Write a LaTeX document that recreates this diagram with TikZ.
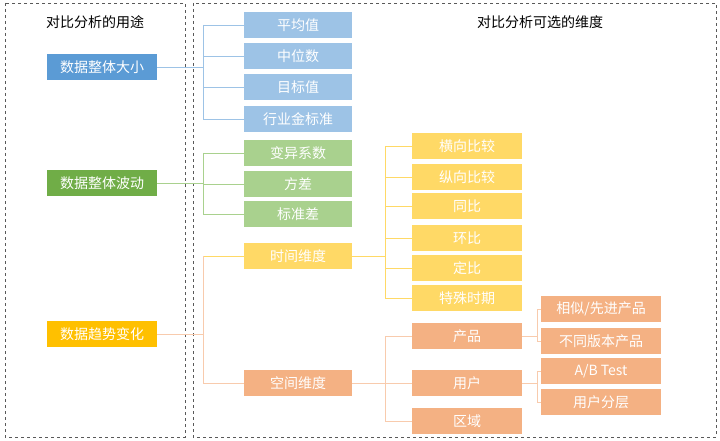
\documentclass[tikz,border=0pt]{standalone}
\usepackage{fontspec}
\setmainfont{Noto Sans CJK SC}
\definecolor{bluedark}{RGB}{91,155,213}
\definecolor{bluelight}{RGB}{157,195,230}
\definecolor{greendark}{RGB}{112,173,71}
\definecolor{greenlight}{RGB}{169,209,142}
\definecolor{yellowdark}{RGB}{255,192,0}
\definecolor{yellowlight}{RGB}{255,217,102}
\definecolor{orangebox}{RGB}{244,177,131}
\definecolor{orangeline}{RGB}{248,203,173}

\begin{document}
\begin{tikzpicture}[x=1pt, y=-1pt, font=\fontsize{14}{16}\selectfont,
        box/.style = {text=white, minimum height=26pt, inner sep=0pt},
        top/.style = {box, minimum width=110pt},
        mid/.style = {box, minimum width=108pt},
        low/.style = {box, minimum width=110pt},
        leaf/.style = {box, minimum width=120pt},
        link/.style = {draw=#1, thick}]
    \useasboundingbox (0,0) rectangle (720,441);
    \draw[dashed, gray!70!black, thick] (5,3) rectangle (185,437);
    \draw[dashed, gray!70!black, thick] (193,3) rectangle (716,437);
    \node (t1) at (95,22) {对比分析的用途};
    \node (t2) at (540,22) {对比分析可选的维度};

    \node[top, fill=bluedark] (size) at (102,67) {数据整体大小};
    \node[top, fill=greendark] (wave) at (102,183) {数据整体波动};
    \node[top, fill=yellowdark] (trend) at (102,334) {数据趋势变化};

    \node[mid, fill=bluelight] (mean) at (298,25) {平均值};
    \node[mid, fill=bluelight] (median) at (298,56) {中位数};
    \node[mid, fill=bluelight] (target) at (298,87) {目标值};
    \node[mid, fill=bluelight] (gold) at (298,119) {行业金标准};
    \node[mid, fill=greenlight] (cv) at (298,153) {变异系数};
    \node[mid, fill=greenlight] (var) at (298,184) {方差};
    \node[mid, fill=greenlight] (sd) at (298,214) {标准差};
    \node[mid, fill=yellowlight] (time) at (298,256) {时间维度};
    \node[mid, fill=orangebox] (space) at (298,383) {空间维度};

    \node[low, fill=yellowlight] (horiz) at (467,146) {横向比较};
    \node[low, fill=yellowlight] (vert) at (467,177) {纵向比较};
    \node[low, fill=yellowlight] (yoy) at (467,206) {同比};
    \node[low, fill=yellowlight] (mom) at (467,238) {环比};
    \node[low, fill=yellowlight] (fixed) at (467,268) {定比};
    \node[low, fill=yellowlight] (special) at (467,298) {特殊时期};
    \node[low, fill=orangebox] (product) at (467,336) {产品};
    \node[low, fill=orangebox] (user) at (467,383) {用户};
    \node[low, fill=orangebox] (region) at (467,421) {区域};

    \node[leaf, fill=orangebox] (similar) at (601,309) {相似/先进产品};
    \node[leaf, fill=orangebox] (version) at (601,341) {不同版本产品};
    \node[leaf, fill=orangebox] (abtest) at (601,371) {A/B Test};
    \node[leaf, fill=orangebox] (layer) at (601,402) {用户分层};

    % elbow connectors
    \draw[link=bluelight] (size.east) -- (203,67);
    \foreach \n in {mean,median,target,gold}
        \draw[link=bluelight] (203,0 |- \n.west) -- (\n.west);
    \draw[link=bluelight] (203,25) -- (203,119);
    \draw[link=greenlight] (wave.east) -- (203,183);
    \foreach \n in {cv,var,sd}
        \draw[link=greenlight] (203,0 |- \n.west) -- (\n.west);
    \draw[link=greenlight] (203,153) -- (203,214);
    \draw[link=orangeline] (trend.east) -- (203,334);
    \draw[link=yellowlight] (203,256) -- (time.west);
    \draw[link=orangeline] (203,383) -- (space.west);
    \draw[link=orangeline] (203,256) -- (203,383);
    \draw[link=yellowlight] (time.east) -- (385,256);
    \foreach \n in {horiz,vert,yoy,mom,fixed,special}
        \draw[link=yellowlight] (385,0 |- \n.west) -- (\n.west);
    \draw[link=yellowlight] (385,146) -- (385,298);
    \draw[link=orangeline] (space.east) -- (385,383);
    \foreach \n in {product,user,region}
        \draw[link=orangeline] (385,0 |- \n.west) -- (\n.west);
    \draw[link=orangeline] (385,336) -- (385,421);
    \draw[link=orangeline] (product.east) -- (537,336);
    \foreach \n in {similar,version}
        \draw[link=orangeline] (537,0 |- \n.west) -- (\n.west);
    \draw[link=orangeline] (537,309) -- (537,341);
    \draw[link=orangeline] (user.east) -- (537,383);
    \foreach \n in {abtest,layer}
        \draw[link=orangeline] (537,0 |- \n.west) -- (\n.west);
    \draw[link=orangeline] (537,371) -- (537,402);
\end{tikzpicture}
\end{document}
